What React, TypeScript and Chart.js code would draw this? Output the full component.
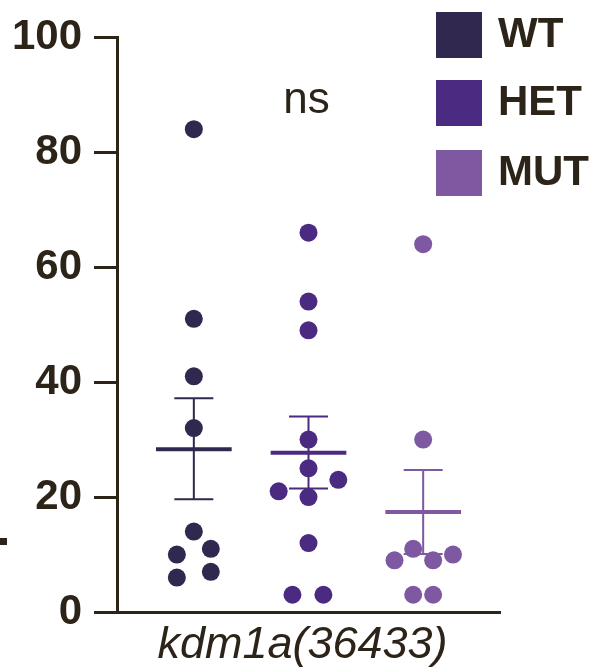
import React, { useEffect, useRef } from 'react';
import { Chart, registerables } from 'chart.js';

Chart.register(...registerables);

// ---- data ----
const groups = ['WT', 'HET', 'MUT'];
const groupColors = ['#31284f', '#4b2a82', '#7e58a0'];

const wtValues = [84, 51, 41, 32, 14, 11, 10, 7, 6];
const wtOffsets = [0, 0, 0, 0, 0, 0.148, -0.148, 0.148, -0.148];
const hetValues = [66, 54, 49, 30, 25, 23, 21, 20, 12, 3, 3];
const hetOffsets = [0, 0, 0, 0, 0, 0.26, -0.26, 0, 0, -0.14, 0.13];
const mutValues = [64, 30, 11, 10, 9, 9, 3, 3];
const mutOffsets = [0, 0, -0.087, 0.26, -0.25, 0.087, -0.087, 0.087];

const means = [28.3, 27.7, 17.4];
const semUpper = [37.2, 34.0, 24.7];
const semLower = [19.6, 21.5, 10.1];

const yTicks = [0, 20, 40, 60, 80, 100];
const xAxisTitle = 'kdm1a(36433)';
const sigLabel = 'ns';

const axisColor = '#2c2319';
const FONT = '"Liberation Sans", Arial, Helvetica, sans-serif';

const seriesValues = [wtValues, hetValues, mutValues];
const seriesOffsets = [wtOffsets, hetOffsets, mutOffsets];

const overlayPlugin = {
  id: 'overlay',
  beforeDatasetsDraw(chart: any) {
    const { ctx, scales } = chart;
    const x = scales.x;
    const y = scales.y;
    ctx.save();
    groups.forEach((_, i) => {
      const pos = i + 1;
      const cx = x.getPixelForValue(pos);
      ctx.strokeStyle = groupColors[i];
      const yt = y.getPixelForValue(semUpper[i]);
      const yb = y.getPixelForValue(semLower[i]);
      const capL = x.getPixelForValue(pos - 0.17);
      const capR = x.getPixelForValue(pos + 0.17);
      ctx.lineWidth = 2;
      ctx.beginPath();
      ctx.moveTo(cx, yt);
      ctx.lineTo(cx, yb);
      ctx.moveTo(capL, yt);
      ctx.lineTo(capR, yt);
      ctx.moveTo(capL, yb);
      ctx.lineTo(capR, yb);
      ctx.stroke();
      const ym = y.getPixelForValue(means[i]);
      ctx.lineWidth = 4;
      ctx.beginPath();
      ctx.moveTo(x.getPixelForValue(pos - 0.33), ym);
      ctx.lineTo(x.getPixelForValue(pos + 0.33), ym);
      ctx.stroke();
    });
    ctx.restore();
  },
  afterDraw(chart: any) {
    const { ctx, chartArea, scales } = chart;
    const x = scales.x;
    ctx.save();
    // legend
    const sq = 46;
    const legendX = 436;
    const legendY = [12, 80, 150];
    groups.forEach((g, i) => {
      ctx.fillStyle = groupColors[i];
      ctx.fillRect(legendX, legendY[i], sq, sq);
      ctx.fillStyle = axisColor;
      ctx.font = `bold 42px ${FONT}`;
      ctx.textAlign = 'left';
      ctx.textBaseline = 'alphabetic';
      ctx.fillText(g, 498, legendY[i] + 35);
    });
    // significance label
    ctx.font = `44px ${FONT}`;
    ctx.textAlign = 'center';
    ctx.fillStyle = axisColor;
    ctx.fillText(sigLabel, (chartArea.left + chartArea.right) / 2 - 2, 113);
    // x-axis title
    ctx.font = `italic 45px ${FONT}`;
    ctx.fillText(xAxisTitle, (chartArea.left + chartArea.right) / 2 - 6, x.bottom - 11);
    // cut-off fragment at left edge
    ctx.fillStyle = axisColor;
    ctx.fillRect(0, 538, 7, 7);
    ctx.restore();
  },
};

export default function App() {
  const ref = useRef<HTMLCanvasElement | null>(null);

  useEffect(() => {
    document.body.style.margin = '0';
    if (!ref.current) return;
    const datasets = groups.map((g, i) => ({
      label: g,
      data: seriesValues[i].map((v, j) => ({ x: i + 1 + seriesOffsets[i][j], y: v })),
      backgroundColor: groupColors[i],
      borderWidth: 0,
      pointRadius: 9,
      pointHoverRadius: 9,
    }));
    const chart = new Chart(ref.current, {
      type: 'scatter',
      data: { datasets },
      plugins: [overlayPlugin],
      options: {
        animation: false,
        responsive: false,
        maintainAspectRatio: false,
        layout: { padding: { top: 36, right: 101, left: 0, bottom: 0 } },
        plugins: { legend: { display: false }, tooltip: { enabled: false } },
        scales: {
          x: {
            type: 'linear',
            min: 0.33,
            max: 3.67,
            grid: { display: false },
            ticks: { display: false },
            border: { display: true, width: 3, color: axisColor },
            afterFit: (s: any) => {
              s.height = 57;
            },
          },
          y: {
            type: 'linear',
            min: 0,
            max: 100,
            afterBuildTicks: (s: any) => {
              s.ticks = yTicks.map((v) => ({ value: v }));
            },
            ticks: {
              color: axisColor,
              padding: 12,
              font: { size: 42, weight: 'bold', family: FONT },
            },
            grid: {
              drawOnChartArea: false,
              drawTicks: true,
              tickLength: 23,
              lineWidth: 3,
              color: axisColor,
            },
            border: { display: true, width: 3, color: axisColor },
            afterFit: (s: any) => {
              s.width = 117;
            },
          },
        },
      } as any,
    });
    return () => chart.destroy();
  }, []);

  return (
    <div style={{ position: 'absolute', left: 0, top: 0 }}>
      <canvas ref={ref} width={601} height={669} style={{ display: 'block', width: 601, height: 669 }} />
    </div>
  );
}
